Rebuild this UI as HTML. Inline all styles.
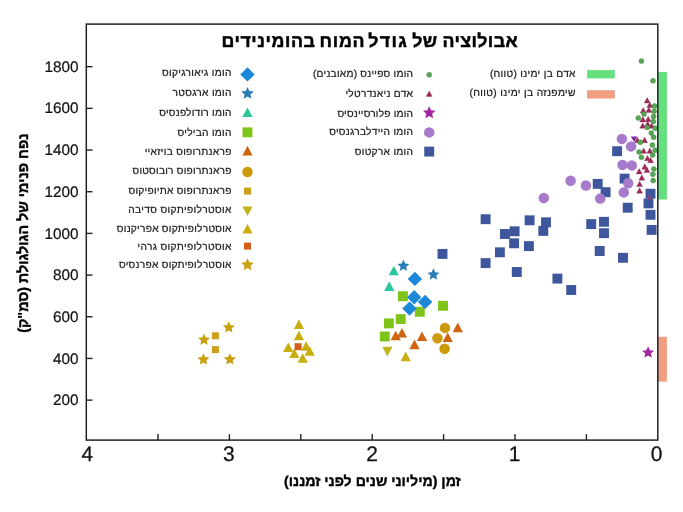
<!DOCTYPE html><html><head><meta charset="utf-8"><style>html,body{margin:0;padding:0;background:#fff;}svg{display:block} text{font-family:'Liberation Sans', sans-serif;text-rendering:geometricPrecision;}</style></head><body>
<svg width="683" height="512" viewBox="0 0 683 512">
<rect width="683" height="512" fill="#fff"/>
<rect x="657.8" y="71.9" width="9.1" height="127.6" fill="#66e07e"/>
<rect x="657.8" y="336.8" width="9.1" height="44.8" fill="#ef9e80"/>
<path d="M228.80,321.20 L230.54,325.10 L234.79,325.55 L231.62,328.41 L232.50,332.60 L228.80,330.46 L225.10,332.60 L225.98,328.41 L222.81,325.55 L227.06,325.10 Z" fill="#c8a010"/>
<path d="M204.00,333.50 L205.74,337.40 L209.99,337.85 L206.82,340.71 L207.70,344.90 L204.00,342.76 L200.30,344.90 L201.18,340.71 L198.01,337.85 L202.26,337.40 Z" fill="#c8a010"/>
<path d="M203.40,353.20 L205.14,357.10 L209.39,357.55 L206.22,360.41 L207.10,364.60 L203.40,362.46 L199.70,364.60 L200.58,360.41 L197.41,357.55 L201.66,357.10 Z" fill="#c8a010"/>
<path d="M229.90,353.20 L231.64,357.10 L235.89,357.55 L232.72,360.41 L233.60,364.60 L229.90,362.46 L226.20,364.60 L227.08,360.41 L223.91,357.55 L228.16,357.10 Z" fill="#c8a010"/>
<path d="M211.90,332.30 h7.00 v7.00 h-7.00 Z" fill="#cca018"/>
<path d="M211.90,346.10 h7.00 v7.00 h-7.00 Z" fill="#cca018"/>
<path d="M298.90,319.50 L304.00,329.10 L293.80,329.10 Z" fill="#c8ae0e"/>
<path d="M298.90,330.70 L304.00,340.30 L293.80,340.30 Z" fill="#c8ae0e"/>
<path d="M288.20,342.50 L293.30,352.10 L283.10,352.10 Z" fill="#c8ae0e"/>
<path d="M306.10,341.20 L311.20,350.80 L301.00,350.80 Z" fill="#c8ae0e"/>
<path d="M309.70,346.20 L314.80,355.80 L304.60,355.80 Z" fill="#c8ae0e"/>
<path d="M294.30,348.40 L299.40,358.00 L289.20,358.00 Z" fill="#c8ae0e"/>
<path d="M302.70,353.20 L307.80,362.80 L297.60,362.80 Z" fill="#c8ae0e"/>
<path d="M405.70,351.60 L410.80,361.20 L400.60,361.20 Z" fill="#c8ae0e"/>
<path d="M294.60,343.20 h7.00 v7.00 h-7.00 Z" fill="#d2601a"/>
<path d="M387.40,356.40 L392.50,346.80 L382.30,346.80 Z" fill="#c0b41c"/>
<path d="M393.80,265.70 L398.90,275.30 L388.70,275.30 Z" fill="#2bc69e"/>
<path d="M389.30,281.30 L394.40,290.90 L384.20,290.90 Z" fill="#2bc69e"/>
<path d="M403.40,259.60 L405.14,263.50 L409.39,263.95 L406.22,266.81 L407.10,271.00 L403.40,268.86 L399.70,271.00 L400.58,266.81 L397.41,263.95 L401.66,263.50 Z" fill="#2a7db5"/>
<path d="M433.40,268.30 L435.14,272.20 L439.39,272.65 L436.22,275.51 L437.10,279.70 L433.40,277.56 L429.70,279.70 L430.58,275.51 L427.41,272.65 L431.66,272.20 Z" fill="#2a7db5"/>
<path d="M397.95,291.25 h9.90 v9.90 h-9.90 Z" fill="#7fc418"/>
<path d="M414.85,306.85 h9.90 v9.90 h-9.90 Z" fill="#7fc418"/>
<path d="M438.05,300.85 h9.90 v9.90 h-9.90 Z" fill="#7fc418"/>
<path d="M395.75,314.15 h9.90 v9.90 h-9.90 Z" fill="#7fc418"/>
<path d="M383.95,318.45 h9.90 v9.90 h-9.90 Z" fill="#7fc418"/>
<path d="M379.85,331.55 h9.90 v9.90 h-9.90 Z" fill="#7fc418"/>
<path d="M414.90,271.70 L422.10,278.90 L414.90,286.10 L407.70,278.90 Z" fill="#1d88d8"/>
<path d="M414.20,290.00 L421.40,297.20 L414.20,304.40 L407.00,297.20 Z" fill="#1d88d8"/>
<path d="M425.10,294.70 L432.30,301.90 L425.10,309.10 L417.90,301.90 Z" fill="#1d88d8"/>
<path d="M409.50,301.40 L416.70,308.60 L409.50,315.80 L402.30,308.60 Z" fill="#1d88d8"/>
<path d="M395.70,330.70 L400.80,340.30 L390.60,340.30 Z" fill="#d0640f"/>
<path d="M402.00,327.90 L407.10,337.50 L396.90,337.50 Z" fill="#d0640f"/>
<path d="M422.00,331.50 L427.10,341.10 L416.90,341.10 Z" fill="#d0640f"/>
<path d="M414.50,339.60 L419.60,349.20 L409.40,349.20 Z" fill="#d0640f"/>
<path d="M457.80,322.60 L462.90,332.20 L452.70,332.20 Z" fill="#d0640f"/>
<path d="M447.70,332.40 L452.80,342.00 L442.60,342.00 Z" fill="#d0640f"/>
<circle cx="445.00" cy="327.90" r="5.25" fill="#cc9a0a"/>
<circle cx="437.40" cy="338.20" r="5.25" fill="#cc9a0a"/>
<circle cx="444.60" cy="348.70" r="5.25" fill="#cc9a0a"/>
<path d="M437.55,248.95 h9.90 v9.90 h-9.90 Z" fill="#3d569c"/>
<path d="M480.65,214.25 h9.90 v9.90 h-9.90 Z" fill="#3d569c"/>
<path d="M480.65,258.15 h9.90 v9.90 h-9.90 Z" fill="#3d569c"/>
<path d="M494.95,247.35 h9.90 v9.90 h-9.90 Z" fill="#3d569c"/>
<path d="M500.05,229.05 h9.90 v9.90 h-9.90 Z" fill="#3d569c"/>
<path d="M509.65,226.35 h9.90 v9.90 h-9.90 Z" fill="#3d569c"/>
<path d="M509.15,238.35 h9.90 v9.90 h-9.90 Z" fill="#3d569c"/>
<path d="M511.85,267.05 h9.90 v9.90 h-9.90 Z" fill="#3d569c"/>
<path d="M524.65,215.35 h9.90 v9.90 h-9.90 Z" fill="#3d569c"/>
<path d="M523.95,241.15 h9.90 v9.90 h-9.90 Z" fill="#3d569c"/>
<path d="M538.35,225.95 h9.90 v9.90 h-9.90 Z" fill="#3d569c"/>
<path d="M541.05,217.35 h9.90 v9.90 h-9.90 Z" fill="#3d569c"/>
<path d="M552.45,273.65 h9.90 v9.90 h-9.90 Z" fill="#3d569c"/>
<path d="M566.25,285.05 h9.90 v9.90 h-9.90 Z" fill="#3d569c"/>
<path d="M586.25,219.15 h9.90 v9.90 h-9.90 Z" fill="#3d569c"/>
<path d="M599.05,216.85 h9.90 v9.90 h-9.90 Z" fill="#3d569c"/>
<path d="M599.05,228.25 h9.90 v9.90 h-9.90 Z" fill="#3d569c"/>
<path d="M594.75,246.05 h9.90 v9.90 h-9.90 Z" fill="#3d569c"/>
<path d="M618.05,252.85 h9.90 v9.90 h-9.90 Z" fill="#3d569c"/>
<path d="M592.75,178.95 h9.90 v9.90 h-9.90 Z" fill="#3d569c"/>
<path d="M600.65,187.25 h9.90 v9.90 h-9.90 Z" fill="#3d569c"/>
<path d="M612.15,146.25 h9.90 v9.90 h-9.90 Z" fill="#3d569c"/>
<path d="M619.65,173.65 h9.90 v9.90 h-9.90 Z" fill="#3d569c"/>
<path d="M622.75,202.75 h9.90 v9.90 h-9.90 Z" fill="#3d569c"/>
<path d="M645.55,188.75 h9.90 v9.90 h-9.90 Z" fill="#3d569c"/>
<path d="M643.55,198.45 h9.90 v9.90 h-9.90 Z" fill="#3d569c"/>
<path d="M645.55,209.85 h9.90 v9.90 h-9.90 Z" fill="#3d569c"/>
<path d="M646.65,224.95 h9.90 v9.90 h-9.90 Z" fill="#3d569c"/>
<path d="M634.10,142.00 L637.40,136.60 L630.80,136.60 Z" fill="#7b2aa0"/>
<circle cx="621.90" cy="138.90" r="5.25" fill="#a87acb"/>
<circle cx="631.10" cy="146.40" r="5.25" fill="#a87acb"/>
<circle cx="622.50" cy="164.90" r="5.25" fill="#a87acb"/>
<circle cx="631.80" cy="165.40" r="5.25" fill="#a87acb"/>
<circle cx="628.20" cy="183.20" r="5.25" fill="#a87acb"/>
<circle cx="623.80" cy="192.40" r="5.25" fill="#a87acb"/>
<circle cx="570.60" cy="180.80" r="5.25" fill="#a87acb"/>
<circle cx="585.90" cy="185.50" r="5.25" fill="#a87acb"/>
<circle cx="543.80" cy="198.00" r="5.25" fill="#a87acb"/>
<circle cx="600.20" cy="198.60" r="5.25" fill="#a87acb"/>
<path d="M647.20,97.60 L650.20,103.00 L644.20,103.00 Z" fill="#a02a58" stroke="#7a1a40" stroke-width="0.3"/>
<path d="M649.80,102.20 L652.80,107.60 L646.80,107.60 Z" fill="#a02a58" stroke="#7a1a40" stroke-width="0.3"/>
<path d="M643.20,107.60 L646.20,113.00 L640.20,113.00 Z" fill="#a02a58" stroke="#7a1a40" stroke-width="0.3"/>
<path d="M648.90,107.00 L651.90,112.40 L645.90,112.40 Z" fill="#a02a58" stroke="#7a1a40" stroke-width="0.3"/>
<path d="M642.80,116.50 L645.80,121.90 L639.80,121.90 Z" fill="#a02a58" stroke="#7a1a40" stroke-width="0.3"/>
<path d="M648.20,116.30 L651.20,121.70 L645.20,121.70 Z" fill="#a02a58" stroke="#7a1a40" stroke-width="0.3"/>
<path d="M642.70,122.80 L645.70,128.20 L639.70,128.20 Z" fill="#a02a58" stroke="#7a1a40" stroke-width="0.3"/>
<path d="M647.70,121.20 L650.70,126.60 L644.70,126.60 Z" fill="#a02a58" stroke="#7a1a40" stroke-width="0.3"/>
<path d="M651.70,122.90 L654.70,128.30 L648.70,128.30 Z" fill="#a02a58" stroke="#7a1a40" stroke-width="0.3"/>
<path d="M637.40,137.30 L640.40,142.70 L634.40,142.70 Z" fill="#a02a58" stroke="#7a1a40" stroke-width="0.3"/>
<path d="M644.60,137.30 L647.60,142.70 L641.60,142.70 Z" fill="#a02a58" stroke="#7a1a40" stroke-width="0.3"/>
<path d="M643.60,147.90 L646.60,153.30 L640.60,153.30 Z" fill="#a02a58" stroke="#7a1a40" stroke-width="0.3"/>
<path d="M649.90,147.90 L652.90,153.30 L646.90,153.30 Z" fill="#a02a58" stroke="#7a1a40" stroke-width="0.3"/>
<path d="M647.40,155.40 L650.40,160.80 L644.40,160.80 Z" fill="#a02a58" stroke="#7a1a40" stroke-width="0.3"/>
<path d="M650.60,157.40 L653.60,162.80 L647.60,162.80 Z" fill="#a02a58" stroke="#7a1a40" stroke-width="0.3"/>
<path d="M644.80,163.80 L647.80,169.20 L641.80,169.20 Z" fill="#a02a58" stroke="#7a1a40" stroke-width="0.3"/>
<path d="M646.90,167.20 L649.90,172.60 L643.90,172.60 Z" fill="#a02a58" stroke="#7a1a40" stroke-width="0.3"/>
<path d="M639.20,168.50 L642.20,173.90 L636.20,173.90 Z" fill="#a02a58" stroke="#7a1a40" stroke-width="0.3"/>
<path d="M641.80,174.80 L644.80,180.20 L638.80,180.20 Z" fill="#a02a58" stroke="#7a1a40" stroke-width="0.3"/>
<path d="M639.60,181.20 L642.60,186.60 L636.60,186.60 Z" fill="#a02a58" stroke="#7a1a40" stroke-width="0.3"/>
<path d="M639.60,187.80 L642.60,193.20 L636.60,193.20 Z" fill="#a02a58" stroke="#7a1a40" stroke-width="0.3"/>
<circle cx="641.40" cy="61.10" r="2.50" fill="#56a856" stroke="#3a7a3a" stroke-width="0.4"/>
<circle cx="653.00" cy="80.80" r="2.50" fill="#56a856" stroke="#3a7a3a" stroke-width="0.4"/>
<circle cx="654.50" cy="105.90" r="2.50" fill="#56a856" stroke="#3a7a3a" stroke-width="0.4"/>
<circle cx="654.10" cy="111.20" r="2.50" fill="#56a856" stroke="#3a7a3a" stroke-width="0.4"/>
<circle cx="644.00" cy="114.10" r="2.50" fill="#56a856" stroke="#3a7a3a" stroke-width="0.4"/>
<circle cx="638.30" cy="118.00" r="2.50" fill="#56a856" stroke="#3a7a3a" stroke-width="0.4"/>
<circle cx="653.50" cy="116.50" r="2.50" fill="#56a856" stroke="#3a7a3a" stroke-width="0.4"/>
<circle cx="653.30" cy="121.50" r="2.50" fill="#56a856" stroke="#3a7a3a" stroke-width="0.4"/>
<circle cx="647.20" cy="127.40" r="2.50" fill="#56a856" stroke="#3a7a3a" stroke-width="0.4"/>
<circle cx="655.20" cy="128.20" r="2.50" fill="#56a856" stroke="#3a7a3a" stroke-width="0.4"/>
<circle cx="651.30" cy="132.90" r="2.50" fill="#56a856" stroke="#3a7a3a" stroke-width="0.4"/>
<circle cx="653.60" cy="137.30" r="2.50" fill="#56a856" stroke="#3a7a3a" stroke-width="0.4"/>
<circle cx="640.30" cy="142.30" r="2.50" fill="#56a856" stroke="#3a7a3a" stroke-width="0.4"/>
<circle cx="652.40" cy="145.10" r="2.50" fill="#56a856" stroke="#3a7a3a" stroke-width="0.4"/>
<circle cx="639.00" cy="151.90" r="2.50" fill="#56a856" stroke="#3a7a3a" stroke-width="0.4"/>
<circle cx="641.40" cy="157.20" r="2.50" fill="#56a856" stroke="#3a7a3a" stroke-width="0.4"/>
<circle cx="652.60" cy="155.00" r="2.50" fill="#56a856" stroke="#3a7a3a" stroke-width="0.4"/>
<circle cx="655.20" cy="150.20" r="2.50" fill="#56a856" stroke="#3a7a3a" stroke-width="0.4"/>
<circle cx="653.90" cy="169.00" r="2.50" fill="#56a856" stroke="#3a7a3a" stroke-width="0.4"/>
<circle cx="652.90" cy="174.30" r="2.50" fill="#56a856" stroke="#3a7a3a" stroke-width="0.4"/>
<circle cx="653.20" cy="180.60" r="2.50" fill="#56a856" stroke="#3a7a3a" stroke-width="0.4"/>
<path d="M648.10,346.30 L649.84,350.20 L654.09,350.65 L650.92,353.51 L651.80,357.70 L648.10,355.56 L644.40,357.70 L645.28,353.51 L642.11,350.65 L646.36,350.20 Z" fill="#a326a0"/>
<path d="M649.4,190.9 L651.0,199.6 L647.9,199.6 Z" fill="#b8306a" opacity="0.75"/>
<rect x="86.3" y="24.1" width="571.5" height="416.0" fill="none" stroke="#222222" stroke-width="1.5"/>
<line x1="586.40" y1="440.1" x2="586.40" y2="434.1" stroke="#222222" stroke-width="1.4"/>
<line x1="515.00" y1="440.1" x2="515.00" y2="434.1" stroke="#222222" stroke-width="1.4"/>
<line x1="443.60" y1="440.1" x2="443.60" y2="434.1" stroke="#222222" stroke-width="1.4"/>
<line x1="372.20" y1="440.1" x2="372.20" y2="434.1" stroke="#222222" stroke-width="1.4"/>
<line x1="300.80" y1="440.1" x2="300.80" y2="434.1" stroke="#222222" stroke-width="1.4"/>
<line x1="229.40" y1="440.1" x2="229.40" y2="434.1" stroke="#222222" stroke-width="1.4"/>
<line x1="158.00" y1="440.1" x2="158.00" y2="434.1" stroke="#222222" stroke-width="1.4"/>
<line x1="86.3" y1="400.12" x2="92.5" y2="400.12" stroke="#222222" stroke-width="1.4"/>
<line x1="86.3" y1="358.44" x2="92.5" y2="358.44" stroke="#222222" stroke-width="1.4"/>
<line x1="86.3" y1="316.76" x2="92.5" y2="316.76" stroke="#222222" stroke-width="1.4"/>
<line x1="86.3" y1="275.08" x2="92.5" y2="275.08" stroke="#222222" stroke-width="1.4"/>
<line x1="86.3" y1="233.40" x2="92.5" y2="233.40" stroke="#222222" stroke-width="1.4"/>
<line x1="86.3" y1="191.72" x2="92.5" y2="191.72" stroke="#222222" stroke-width="1.4"/>
<line x1="86.3" y1="150.04" x2="92.5" y2="150.04" stroke="#222222" stroke-width="1.4"/>
<line x1="86.3" y1="108.36" x2="92.5" y2="108.36" stroke="#222222" stroke-width="1.4"/>
<line x1="86.3" y1="66.68" x2="92.5" y2="66.68" stroke="#222222" stroke-width="1.4"/>
<text x="656.60" y="461.1" font-size="21" text-anchor="middle" fill="#111" stroke="#111" stroke-width="0.25">0</text>
<text x="514.50" y="461.1" font-size="21" text-anchor="middle" fill="#111" stroke="#111" stroke-width="0.25">1</text>
<text x="372.20" y="461.1" font-size="21" text-anchor="middle" fill="#111" stroke="#111" stroke-width="0.25">2</text>
<text x="228.90" y="461.1" font-size="21" text-anchor="middle" fill="#111" stroke="#111" stroke-width="0.25">3</text>
<text x="87.40" y="461.1" font-size="21" text-anchor="middle" fill="#111" stroke="#111" stroke-width="0.25">4</text>
<text x="78.6" y="405.22" font-size="15.3" text-anchor="end" fill="#111" stroke="#111" stroke-width="0.2">200</text>
<text x="78.6" y="363.54" font-size="15.3" text-anchor="end" fill="#111" stroke="#111" stroke-width="0.2">400</text>
<text x="78.6" y="321.86" font-size="15.3" text-anchor="end" fill="#111" stroke="#111" stroke-width="0.2">600</text>
<text x="78.6" y="280.18" font-size="15.3" text-anchor="end" fill="#111" stroke="#111" stroke-width="0.2">800</text>
<text x="78.6" y="238.50" font-size="15.3" text-anchor="end" fill="#111" stroke="#111" stroke-width="0.2">1000</text>
<text x="78.6" y="196.82" font-size="15.3" text-anchor="end" fill="#111" stroke="#111" stroke-width="0.2">1200</text>
<text x="78.6" y="155.14" font-size="15.3" text-anchor="end" fill="#111" stroke="#111" stroke-width="0.2">1400</text>
<text x="78.6" y="113.46" font-size="15.3" text-anchor="end" fill="#111" stroke="#111" stroke-width="0.2">1600</text>
<text x="78.6" y="71.78" font-size="15.3" text-anchor="end" fill="#111" stroke="#111" stroke-width="0.2">1800</text>
<text x="517.6" y="47.4" font-size="17.8" font-weight="bold" direction="rtl" text-anchor="start" textLength="75.2" lengthAdjust="spacing" fill="#000" stroke="#000" stroke-width="0.5">אבולוציה</text>
<text x="437.2" y="47.4" font-size="17.8" font-weight="bold" direction="rtl" text-anchor="start" textLength="24.86" lengthAdjust="spacing" fill="#000" stroke="#000" stroke-width="0.5">של</text>
<text x="406.7" y="47.4" font-size="17.8" font-weight="bold" direction="rtl" text-anchor="start" textLength="38.33" lengthAdjust="spacing" fill="#000" stroke="#000" stroke-width="0.5">גודל</text>
<text x="364.6" y="47.4" font-size="17.8" font-weight="bold" direction="rtl" text-anchor="start" textLength="45.02" lengthAdjust="spacing" fill="#000" stroke="#000" stroke-width="0.5">המוח</text>
<text x="314.9" y="47.4" font-size="17.8" font-weight="bold" direction="rtl" text-anchor="start" textLength="93.5" lengthAdjust="spacing" fill="#000" stroke="#000" stroke-width="0.5">בהומינידים</text>
<text x="460.8" y="486" font-size="14.3" font-weight="bold" direction="rtl" text-anchor="start" textLength="176.71" lengthAdjust="spacingAndGlyphs" fill="#000" stroke="#000" stroke-width="0.4">זמן (מיליוני שנים לפני זמננו)</text>
<text x="0" y="0" transform="translate(28.4,133.6) rotate(-90)" font-size="14.3" font-weight="bold" direction="rtl" text-anchor="start" textLength="199.17" lengthAdjust="spacingAndGlyphs" fill="#000" stroke="#000" stroke-width="0.4">נפח פנימי של הגולגולת (סמ"ק)</text>
<path d="M247.50,67.20 L254.70,74.40 L247.50,81.60 L240.30,74.40 Z" fill="#1d88d8"/>
<text x="231.50" y="76.25" font-size="10.2" direction="rtl" text-anchor="start" textLength="69.60" lengthAdjust="spacing" fill="#1a1a1a" stroke="#1a1a1a" stroke-width="0.22">הומו גיאורגיקוס</text>
<path d="M247.50,86.90 L249.32,90.99 L253.78,91.46 L250.45,94.46 L251.38,98.84 L247.50,96.60 L243.62,98.84 L244.55,94.46 L241.22,91.46 L245.68,90.99 Z" fill="#2a7db5"/>
<text x="231.50" y="96.05" font-size="10.2" direction="rtl" text-anchor="start" textLength="58.88" lengthAdjust="spacing" fill="#1a1a1a" stroke="#1a1a1a" stroke-width="0.22">הומו ארגסטר</text>
<path d="M247.50,107.40 L252.60,117.00 L242.40,117.00 Z" fill="#2bc69e"/>
<text x="231.50" y="116.15" font-size="10.2" direction="rtl" text-anchor="start" textLength="72.27" lengthAdjust="spacing" fill="#1a1a1a" stroke="#1a1a1a" stroke-width="0.22">הומו רודולפנסיס</text>
<path d="M242.55,127.35 h9.90 v9.90 h-9.90 Z" fill="#7fc418"/>
<text x="231.50" y="135.95" font-size="10.2" direction="rtl" text-anchor="start" textLength="54.00" lengthAdjust="spacing" fill="#1a1a1a" stroke="#1a1a1a" stroke-width="0.22">הומו הביליס</text>
<path d="M247.50,145.80 L252.60,155.40 L242.40,155.40 Z" fill="#d0640f"/>
<text x="231.50" y="154.55" font-size="10.2" direction="rtl" text-anchor="start" textLength="86.84" lengthAdjust="spacing" fill="#1a1a1a" stroke="#1a1a1a" stroke-width="0.22">פראנתרופוס בויזאיי</text>
<circle cx="247.50" cy="172.00" r="5.25" fill="#cc9a0a"/>
<text x="231.50" y="174.15" font-size="10.2" direction="rtl" text-anchor="start" textLength="99.02" lengthAdjust="spacing" fill="#1a1a1a" stroke="#1a1a1a" stroke-width="0.22">פראנתרופוס רובוסטוס</text>
<path d="M244.00,187.60 h7.00 v7.00 h-7.00 Z" fill="#cca018"/>
<text x="231.50" y="194.45" font-size="10.2" direction="rtl" text-anchor="start" textLength="102.93" lengthAdjust="spacing" fill="#1a1a1a" stroke="#1a1a1a" stroke-width="0.22">פראנתרופוס אתיופיקוס</text>
<path d="M247.50,216.00 L252.60,206.40 L242.40,206.40 Z" fill="#c0b41c"/>
<text x="231.50" y="213.15" font-size="10.2" direction="rtl" text-anchor="start" textLength="103.19" lengthAdjust="spacing" fill="#1a1a1a" stroke="#1a1a1a" stroke-width="0.22">אוסטרלופיתקוס סדיבה</text>
<path d="M247.50,223.90 L252.60,233.50 L242.40,233.50 Z" fill="#c8ae0e"/>
<text x="231.50" y="232.25" font-size="10.2" direction="rtl" text-anchor="start" textLength="114.68" lengthAdjust="spacing" fill="#1a1a1a" stroke="#1a1a1a" stroke-width="0.22">אוסטרלופיתקוס אפריקנוס</text>
<path d="M244.00,242.60 h7.00 v7.00 h-7.00 Z" fill="#d2601a"/>
<text x="231.50" y="249.65" font-size="10.2" direction="rtl" text-anchor="start" textLength="94.12" lengthAdjust="spacing" fill="#1a1a1a" stroke="#1a1a1a" stroke-width="0.22">אוסטרלופיתקוס גרהי</text>
<path d="M247.50,258.20 L249.32,262.29 L253.78,262.76 L250.45,265.76 L251.38,270.14 L247.50,267.90 L243.62,270.14 L244.55,265.76 L241.22,262.76 L245.68,262.29 Z" fill="#c8a010"/>
<text x="231.50" y="268.05" font-size="10.2" direction="rtl" text-anchor="start" textLength="112.53" lengthAdjust="spacing" fill="#1a1a1a" stroke="#1a1a1a" stroke-width="0.22">אוסטרלופיתקוס אפרנסיס</text>
<circle cx="429.20" cy="74.80" r="2.50" fill="#56a856" stroke="#3a7a3a" stroke-width="0.4"/>
<text x="413.00" y="76.85" font-size="10.2" direction="rtl" text-anchor="start" textLength="100.02" lengthAdjust="spacing" fill="#1a1a1a" stroke="#1a1a1a" stroke-width="0.22">הומו ספיינס (מאובנים)</text>
<path d="M429.20,91.00 L432.20,96.40 L426.20,96.40 Z" fill="#a02a58" stroke="#7a1a40" stroke-width="0.3"/>
<text x="413.00" y="96.75" font-size="10.2" direction="rtl" text-anchor="start" textLength="67.57" lengthAdjust="spacing" fill="#1a1a1a" stroke="#1a1a1a" stroke-width="0.22">אדם ניאנדרטלי</text>
<path d="M429.20,106.20 L431.02,110.29 L435.48,110.76 L432.15,113.76 L433.08,118.14 L429.20,115.90 L425.32,118.14 L426.25,113.76 L422.92,110.76 L427.38,110.29 Z" fill="#a326a0"/>
<text x="413.00" y="116.55" font-size="10.2" direction="rtl" text-anchor="start" textLength="75.54" lengthAdjust="spacing" fill="#1a1a1a" stroke="#1a1a1a" stroke-width="0.22">הומו פלורסיינסיס</text>
<circle cx="429.20" cy="132.40" r="5.25" fill="#a87acb"/>
<text x="413.00" y="135.05" font-size="10.2" direction="rtl" text-anchor="start" textLength="83.82" lengthAdjust="spacing" fill="#1a1a1a" stroke="#1a1a1a" stroke-width="0.22">הומו היידלברגנסיס</text>
<path d="M424.25,146.65 h9.90 v9.90 h-9.90 Z" fill="#3d569c"/>
<text x="413.00" y="154.75" font-size="10.2" direction="rtl" text-anchor="start" textLength="58.24" lengthAdjust="spacing" fill="#1a1a1a" stroke="#1a1a1a" stroke-width="0.22">הומו ארקטוס</text>
<rect x="587.1" y="70.10" width="27.7" height="8.3" fill="#66e07e"/>
<text x="575.50" y="76.85" font-size="10.2" direction="rtl" text-anchor="start" textLength="85.62" lengthAdjust="spacing" fill="#1a1a1a" stroke="#1a1a1a" stroke-width="0.22">אדם בן ימינו (טווח)</text>
<rect x="587.1" y="90.20" width="27.7" height="8.3" fill="#ef9e80"/>
<text x="575.50" y="96.45" font-size="10.2" direction="rtl" text-anchor="start" textLength="106.01" lengthAdjust="spacing" fill="#1a1a1a" stroke="#1a1a1a" stroke-width="0.22">שימפנזה בן ימינו (טווח)</text>
</svg></body></html>
